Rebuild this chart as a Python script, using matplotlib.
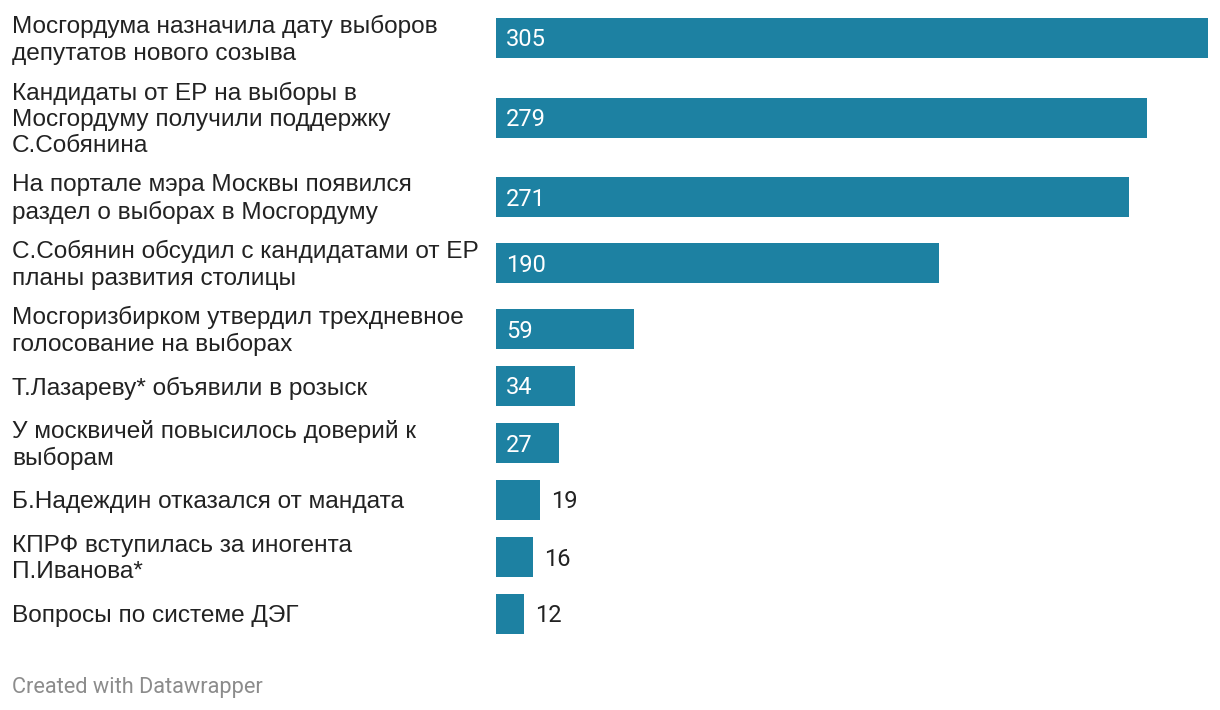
import matplotlib.pyplot as plt
from matplotlib.transforms import blended_transform_factory

plt.rcParams['font.family'] = ['Roboto', 'DejaVu Sans']

labels = [
    "Мосгордума назначила дату выборов\nдепутатов нового созыва",
    "Кандидаты от ЕР на выборы в\nМосгордуму получили поддержку\nС.Собянина",
    "На портале мэра Москвы появился\nраздел о выборах в Мосгордуму",
    "С.Собянин обсудил с кандидатами от ЕР\nпланы развития столицы",
    "Мосгоризбирком утвердил трехдневное\nголосование на выборах",
    "Т.Лазареву* объявили в розыск",
    "У москвичей повысилось доверий к\nвыборам",
    "Б.Надеждин отказался от мандата",
    "КПРФ вступилась за иногента\nП.Иванова*",
    "Вопросы по системе ДЭГ",
]
values = [305, 279, 271, 190, 59, 34, 27, 19, 16, 12]

BAR_COLOR = "#1d81a2"
TEXT_COLOR = "#222222"
W, H = 1220, 710
SCALE = 2.334  # px per unit
X0 = 496

fig = plt.figure(figsize=(W / 100, H / 100), dpi=100)
ax = fig.add_axes([X0 / W, 0, 1 - X0 / W, 1])
ax.set_xlim(0, (W - X0) / SCALE)
ax.set_ylim(H, 0)
ax.axis("off")

# row layout in pixels, based on number of label lines
centers = []
y = 0
for i, lab in enumerate(labels):
    n = lab.count("\n") + 1
    h = max(36, 27 * n) + 12
    if i == 0:
        y = 38 - h / 2
    centers.append(y + h / 2)
    y += h

ax.barh(centers, values, height=40, color=BAR_COLOR)

lab_tr = blended_transform_factory(fig.transFigure, ax.transData)
for c, lab, v in zip(centers, labels, values):
    ax.text(12 / W, c + 2, lab, transform=lab_tr, ha="left", va="center",
            fontsize=17.55, color=TEXT_COLOR, linespacing=1.25,
            family=["Liberation Sans", "DejaVu Sans"])
    if v >= 25:
        ax.text(10 / SCALE, c + 2, str(v), ha="left", va="center",
                fontsize=17, color="white")
    else:
        ax.text(v + 11 / SCALE, c + 2, str(v), ha="left", va="center",
                fontsize=17, color=TEXT_COLOR)

fig.text(12 / W, 1 - 687 / H, "Created with Datawrapper", ha="left",
         va="center", fontsize=15.7, color="#8c8c8c")

fig.savefig("out.png", dpi=100)
